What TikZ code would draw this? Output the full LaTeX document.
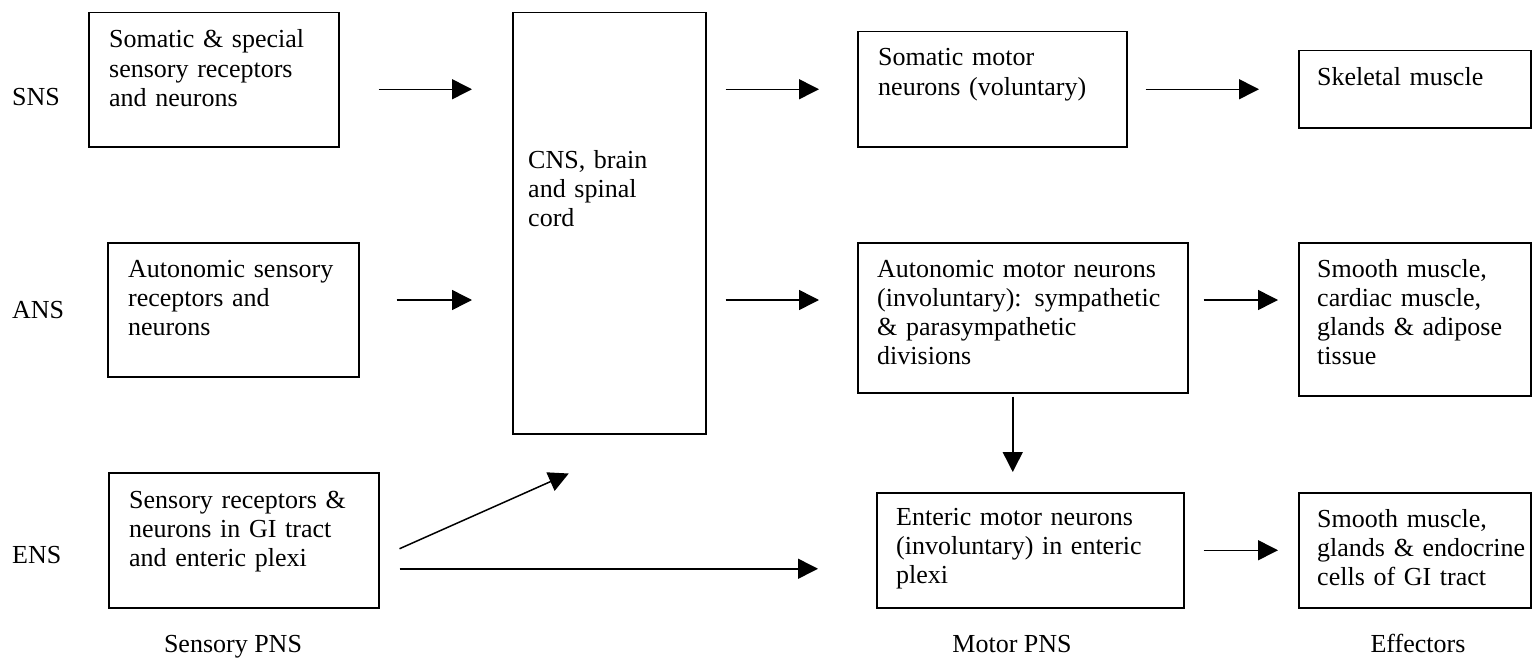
\documentclass[tikz,border=0pt]{standalone}
\usepackage{fontspec}
\setmainfont{Liberation Serif}
\usetikzlibrary{arrows.meta}

\begin{document}
\begin{tikzpicture}[
    x=1pt, y=-1pt, % pixel-like units, y pointing down
    font=\fontsize{26}{29.3}\selectfont,
    >={Triangle[length=20pt, width=20pt]},
    box/.style={draw, line width=1.5pt, anchor=north west, inner sep=0pt},
    txt/.style={anchor=base west, inner sep=0pt, text width=330pt, align=left},
    flow/.style={->, line width=1.5pt},
    rowlabel/.style={anchor=base west, inner sep=0pt},
    collabel/.style={anchor=base, inner sep=0pt}
]
\useasboundingbox (0,0) rectangle (1534,661);

% --- Sensory column ---
\node[box, minimum width=250pt, minimum height=134pt] (somsens) at (88,12) {};
\node[box, minimum width=251pt, minimum height=134pt] (autosens) at (107,242) {};
\node[box, minimum width=270pt, minimum height=135pt] (entsens) at (108,472) {};

% --- CNS ---
\node[box, minimum width=193pt, minimum height=421pt] (cns) at (512,12) {};

% --- Motor column ---
\node[box, minimum width=269pt, minimum height=115pt] (somm) at (857,31) {};
\node[box, minimum width=330pt, minimum height=150pt] (autom) at (857,242) {};
\node[box, minimum width=307pt, minimum height=115pt] (entm) at (876,492) {};

% --- Effectors column ---
\node[box, minimum width=232pt, minimum height=77pt] (skel) at (1298,50) {};
\node[box, minimum width=232pt, minimum height=153pt] (smooth) at (1298,242) {};
\node[box, minimum width=232pt, minimum height=115pt] (gimus) at (1298,492) {};

% --- Box texts ---
\node[txt] (somsens-t) at ([shift={(21,36)}]somsens.north west) {Somatic \& special\\sensory receptors\\and neurons};
\node[txt] (autosens-t) at ([shift={(21,35)}]autosens.north west) {Autonomic sensory\\receptors and\\neurons};
\node[txt] (entsens-t) at ([shift={(21,36)}]entsens.north west) {Sensory receptors \&\\neurons in GI tract\\and enteric plexi};
\node[txt] (cns-t) at ([shift={(16,156)}]cns.north west) {CNS, brain\\and spinal\\cord};
\node[txt] (somm-t) at ([shift={(21,35)}]somm.north west) {Somatic motor\\neurons (voluntary)};
\node[txt] (autom-t) at ([shift={(20,35)}]autom.north west) {Autonomic motor neurons\\(involuntary): sympathetic\\\& parasympathetic\\divisions};
\node[txt] (entm-t) at ([shift={(20,33)}]entm.north west) {Enteric motor neurons\\(involuntary) in enteric\\plexi};
\node[txt] (skel-t) at ([shift={(19,35)}]skel.north west) {Skeletal muscle};
\node[txt] (smooth-t) at ([shift={(19,35)}]smooth.north west) {Smooth muscle,\\cardiac muscle,\\glands \& adipose\\tissue};
\node[txt] (gimus-t) at ([shift={(19,35)}]gimus.north west) {Smooth muscle,\\glands \& endocrine\\cells of GI tract};

% --- Row and column labels ---
\node[rowlabel] (sns) at (12,106) {SNS};
\node[rowlabel] (ans) at (12,318) {ANS};
\node[rowlabel] (ens) at (12,563) {ENS};
\node[collabel] (sensorypns) at (233,652) {Sensory PNS};
\node[collabel] (motorpns) at (1012,652) {Motor PNS};
\node[collabel] (effectors) at (1418,652) {Effectors};

% --- Arrows ---
\coordinate (ansrow) at (0,300);
\draw[flow, shorten <=39pt, shorten >=40pt] (somsens.east |- somm.west) -- (cns.west |- somm.west);
\draw[flow, shorten <=19pt, shorten >=38pt] (cns.east |- somm.west) -- (somm.west);
\draw[flow, shorten <=18pt, shorten >=39pt] (somm.east) -- (skel.west);
\draw[flow, shorten <=37pt, shorten >=40pt] (autosens.east |- ansrow) -- (cns.west |- ansrow);
\draw[flow, shorten <=19pt, shorten >=38pt] (cns.east |- ansrow) -- (autom.west |- ansrow);
\draw[flow, shorten <=15pt, shorten >=20pt] (autom.east |- ansrow) -- (smooth.west |- ansrow);
\draw[flow] ([shift={(20,8.5)}]entsens.east) -- ([shift={(-40.5,39)}]cns.south);
\draw[flow] ([shift={(20,28.5)}]entsens.east) -- ([shift={(-58,18.5)}]entm.west);
\draw[flow, shorten <=19pt, shorten >=20pt] (entm.east) -- (gimus.west);
\draw[flow] ([shift={(-10,3)}]autom.south) -- ([shift={(-17.5,-20)}]entm.north);

\end{tikzpicture}
\end{document}
